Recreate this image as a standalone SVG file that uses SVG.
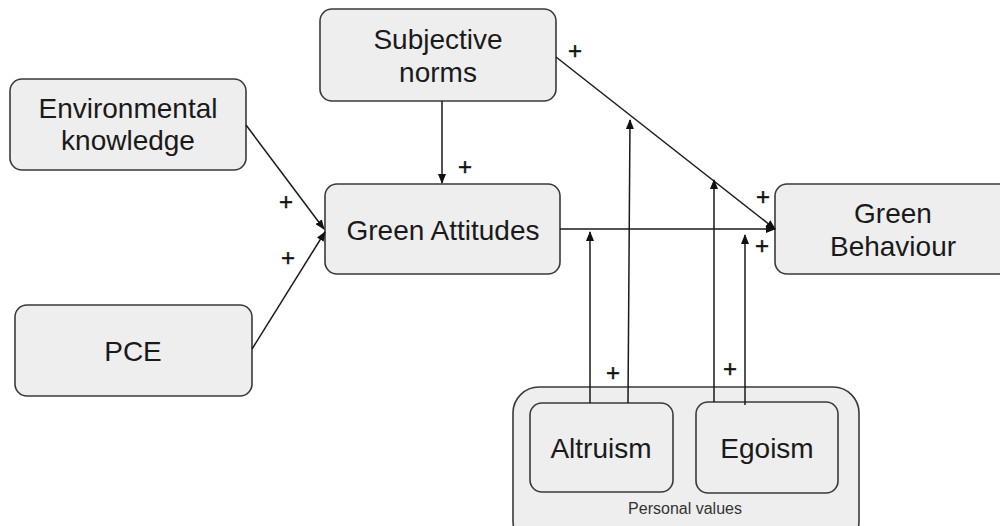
<svg xmlns="http://www.w3.org/2000/svg" width="1000" height="526" viewBox="0 0 1000 526">
<defs>
<marker id="arr" markerUnits="userSpaceOnUse" markerWidth="10" markerHeight="8" refX="9" refY="4" orient="auto">
<path d="M0,0 L10,4 L0,8 Z" fill="#111"/>
</marker>
<style>
.box{fill:#eeeeee;stroke:#3a3a3a;stroke-width:1.6}
.lbl{font-family:"Liberation Sans",Arial,sans-serif;font-size:28px;fill:#1a1a1a;text-anchor:middle}
.small{font-family:"Liberation Sans",Arial,sans-serif;font-size:16px;fill:#333;text-anchor:middle}
.plus{font-family:"Liberation Sans",Arial,sans-serif;font-size:24px;fill:#111;text-anchor:middle;stroke:#111;stroke-width:0.4}
.ln{stroke:#1a1a1a;stroke-width:1.5;fill:none;marker-end:url(#arr)}
</style>
</defs>
<rect width="1000" height="526" fill="#ffffff"/>

<g id="personal-values">
<rect class="box" x="513" y="387" width="346" height="160" rx="26"/>
<text class="small" x="685" y="514">Personal values</text>
</g>

<g id="subjective-norms">
<rect class="box" x="320" y="9" width="236" height="92" rx="12"/>
<text class="lbl" x="438" y="49">Subjective</text>
<text class="lbl" x="438" y="82">norms</text>
</g>

<g id="environmental-knowledge">
<rect class="box" x="10" y="79" width="236" height="91" rx="12"/>
<text class="lbl" x="128" y="118">Environmental</text>
<text class="lbl" x="128" y="150">knowledge</text>
</g>

<g id="green-attitudes">
<rect class="box" x="325" y="184" width="235" height="90" rx="12"/>
<text class="lbl" x="443" y="240">Green Attitudes</text>
</g>

<g id="green-behaviour">
<rect class="box" x="775" y="184" width="236" height="90" rx="12"/>
<text class="lbl" x="893" y="223">Green</text>
<text class="lbl" x="893" y="256">Behaviour</text>
</g>

<g id="pce">
<rect class="box" x="15" y="305" width="237" height="91" rx="12"/>
<text class="lbl" x="133" y="361">PCE</text>
</g>

<g id="altruism">
<rect class="box" x="530" y="403" width="143" height="89" rx="12"/>
<text class="lbl" x="601" y="458">Altruism</text>
</g>

<g id="egoism">
<rect class="box" x="696" y="402" width="142" height="91" rx="12"/>
<text class="lbl" x="767" y="458">Egoism</text>
</g>

<g id="connectors">
<line class="ln" x1="246" y1="125" x2="324" y2="229"/>
<line class="ln" x1="252" y1="349" x2="325" y2="232"/>
<line class="ln" x1="442" y1="101" x2="442" y2="183"/>
<line class="ln" x1="556" y1="57" x2="775" y2="229"/>
<line class="ln" x1="560" y1="229" x2="775" y2="229"/>
<line class="ln" x1="590" y1="403" x2="590" y2="232"/>
<line class="ln" x1="628" y1="403" x2="630" y2="120"/>
<line class="ln" x1="714" y1="402" x2="714" y2="180"/>
<line class="ln" x1="745" y1="405" x2="745" y2="235"/>
</g>

<g id="signs">
<text class="plus" x="575" y="59">+</text>
<text class="plus" x="465" y="175">+</text>
<text class="plus" x="286" y="210">+</text>
<text class="plus" x="288" y="266">+</text>
<text class="plus" x="763" y="205">+</text>
<text class="plus" x="762" y="254">+</text>
<text class="plus" x="613" y="381">+</text>
<text class="plus" x="730" y="377">+</text>
</g>
</svg>
